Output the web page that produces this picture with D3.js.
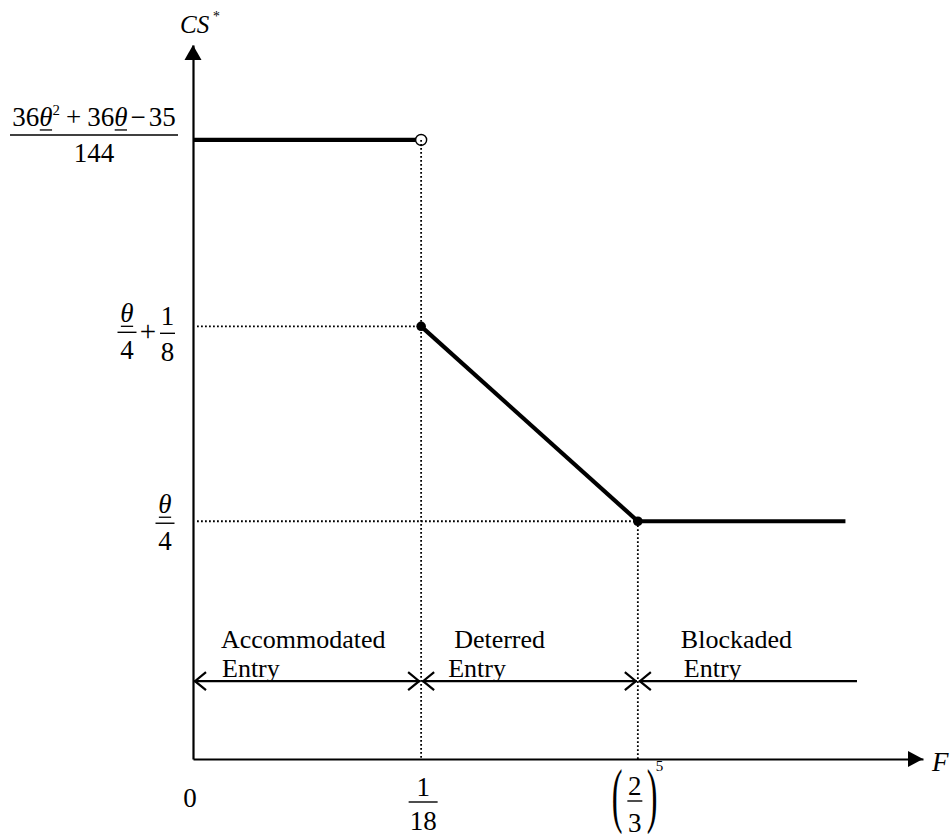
<!DOCTYPE html>
<html>
<head>
<meta charset="utf-8">
<script src="https://cdn.jsdelivr.net/npm/d3@7/dist/d3.min.js"></script>
<style>
  body { margin: 0; background: #fff; }
  text { font-family: "Liberation Serif", "Times New Roman", serif; fill: #000; }
</style>
</head>
<body>
<div id="chart"></div>
<script>
// schematic units (the figure is not to scale)
var breaks = [0, 1, 1.95];          // F = 0, 1/18, (2/3)^5
var levels = [8.67, 6.06, 3.33];    // CS* levels: top, theta/4 + 1/8, theta/4
var lineEnd = 2.86;
var regionRow = 1.09;
var regionEnd = 2.915;

var segments = [
  [[breaks[0], levels[0]], [breaks[1], levels[0]]],
  [[breaks[1], levels[1]], [breaks[2], levels[2]]],
  [[breaks[2], levels[2]], [lineEnd, levels[2]]]
];
var filledDots = [[breaks[1], levels[1]], [breaks[2], levels[2]]];
var openDots = [[breaks[1], levels[0]]];

var regionNames = [["Accommodated", "Entry"], ["Deterred", "Entry"], ["Blockaded", "Entry"]];
var regionBounds = [[breaks[0], breaks[1]], [breaks[1], breaks[2]], [breaks[2], regionEnd]];
var regionHeads = [[true, true], [true, true], [true, false]];

var W = 951, H = 837;
var svg = d3.select("#chart").append("svg")
  .attr("width", W).attr("height", H);

var x = d3.scaleLinear().domain([0, 3.2]).range([193, 923]);
var y = d3.scaleLinear().domain([0, 10]).range([759, 45]);

var MS = 27; // math font size

// --- small math typesetting helper
function run(parent, pieces, size) {
  var g = parent.append("g");
  var cx = 0;
  pieces.forEach(function(p) {
    if (p.gap) { cx += p.gap; return; }
    var fs = p.sup ? size * 0.55 : size;
    var t = g.append("text")
      .attr("x", cx)
      .attr("y", p.sup ? -size * 0.4 : 0)
      .style("font-size", fs + "px")
      .style("font-style", p.i ? "italic" : "normal")
      .text(p.t);
    var w = t.node().getComputedTextLength();
    if (p.u) {
      g.append("line")
        .attr("x1", cx + 0.5).attr("x2", cx + w - 0.5)
        .attr("y1", 4).attr("y2", 4)
        .attr("stroke", "#000").attr("stroke-width", 1.3);
    }
    cx += w;
  });
  g.width = cx;
  return g;
}

function frac(parent, cx, barY, num, den, barW, numUp, denDown) {
  var n = run(parent, num, MS);
  n.attr("transform", "translate(" + (cx - n.width / 2) + "," + (barY - numUp) + ")");
  var d = run(parent, den, MS);
  d.attr("transform", "translate(" + (cx - d.width / 2) + "," + (barY + denDown) + ")");
  parent.append("line")
    .attr("x1", cx - barW / 2).attr("x2", cx + barW / 2)
    .attr("y1", barY).attr("y2", barY)
    .attr("stroke", "#000").attr("stroke-width", 1.4);
}

var theta = {t: "\u03b8", i: true, u: true};

// --- dotted guide lines
var guides = svg.append("g")
  .attr("stroke", "#000").attr("stroke-width", 1.8)
  .attr("stroke-dasharray", "1.8,2.2").attr("fill", "none");
guides.append("line")
  .attr("x1", x(0) + 4).attr("x2", x(breaks[1])).attr("y1", y(levels[1])).attr("y2", y(levels[1]));
guides.append("line")
  .attr("x1", x(0) + 4).attr("x2", x(breaks[2])).attr("y1", y(levels[2])).attr("y2", y(levels[2]));

// --- axes (no ticks, just the domain lines)
svg.append("g")
  .attr("transform", "translate(0," + y(0) + ")")
  .call(d3.axisBottom(x).tickValues([]).tickSizeOuter(0));
svg.append("g")
  .attr("transform", "translate(" + x(0) + ",0)")
  .call(d3.axisLeft(y).tickValues([]).tickSizeOuter(0));
svg.selectAll(".domain").attr("stroke", "#000").attr("stroke-width", 2.2);

// arrow heads
svg.append("path")
  .attr("d", "M" + x(3.2) + "," + y(0) + "l-15,-8v16z").attr("fill", "#000");
svg.append("path")
  .attr("d", "M" + x(0) + "," + y(10) + "l-8.5,15h17z").attr("fill", "#000");

// --- CS* curve
var line = d3.line().x(function(d) { return x(d[0]); }).y(function(d) { return y(d[1]); });
svg.append("g").selectAll("path")
  .data(segments)
  .enter().append("path")
    .attr("d", line)
    .attr("fill", "none").attr("stroke", "#000").attr("stroke-width", 4.2);

svg.selectAll(".open").data(openDots).enter().append("circle")
  .attr("class", "open")
  .attr("cx", function(d) { return x(d[0]); })
  .attr("cy", function(d) { return y(d[1]); })
  .attr("r", 5.5).attr("fill", "#fff").attr("stroke", "#000").attr("stroke-width", 1.4);

// vertical dotted guides (drawn over the open circle)
var vguides = svg.append("g")
  .attr("stroke", "#000").attr("stroke-width", 1.8)
  .attr("stroke-dasharray", "1.8,2.2").attr("fill", "none");
vguides.append("line")
  .attr("x1", x(breaks[1])).attr("x2", x(breaks[1])).attr("y1", y(levels[0])).attr("y2", y(0));
vguides.append("line")
  .attr("x1", x(breaks[2])).attr("x2", x(breaks[2])).attr("y1", y(levels[2])).attr("y2", y(0));

svg.selectAll(".filled").data(filledDots).enter().append("circle")
  .attr("class", "filled")
  .attr("cx", function(d) { return x(d[0]); })
  .attr("cy", function(d) { return y(d[1]); })
  .attr("r", 4.8).attr("fill", "#000");

// --- region arrows and labels
var ry = y(regionRow);
var labelDx = [[28, 29], [33, 27], [43, 46]];
regionBounds.forEach(function(b, i) {
  var x0 = x(b[0]), x1 = x(b[1]);
  var g = svg.append("g").attr("stroke", "#000").attr("stroke-width", 2.2).attr("fill", "none");
  g.append("line").attr("x1", x0 + 1).attr("x2", x1 - 1).attr("y1", ry).attr("y2", ry);
  if (regionHeads[i][0])
    g.append("polyline").attr("points", [[x0 + 13, ry - 9], [x0 + 2, ry], [x0 + 13, ry + 9]].join(" "));
  if (regionHeads[i][1])
    g.append("polyline").attr("points", [[x1 - 13, ry - 9], [x1 - 2, ry], [x1 - 13, ry + 9]].join(" "));
  svg.append("text").attr("x", x0 + labelDx[i][0]).attr("y", ry - 33)
    .style("font-size", "26px").text(regionNames[i][0]);
  svg.append("text").attr("x", x0 + labelDx[i][1]).attr("y", ry - 4)
    .style("font-size", "26px").text(regionNames[i][1]);
});

// --- y labels
var lab = svg.append("g");
frac(lab, 94, y(levels[0]) - 5,
  [{t: "36"}, theta, {t: "2", sup: true}, {gap: 6}, {t: "+"}, {gap: 6}, {t: "36"}, theta, {gap: 3}, {t: "\u2212"}, {gap: 3}, {t: "35"}],
  [{t: "144"}], 168, 9, 27);

frac(lab, 127, y(levels[1]) + 6, [theta], [{t: "4"}], 19, 10, 27);
lab.append("text").attr("x", 148).attr("y", y(levels[1]) + 15)
  .attr("text-anchor", "middle").style("font-size", "29px").text("+");
frac(lab, 167.5, y(levels[1]) + 7, [{t: "1"}], [{t: "8"}], 15, 8, 28);

frac(lab, 165, y(levels[2]) + 2, [theta], [{t: "4"}], 19, 10, 27);

// --- x labels
lab.append("text").attr("x", x(breaks[0]) - 3).attr("y", 807)
  .attr("text-anchor", "middle").style("font-size", MS + "px").text("0");
frac(lab, x(breaks[1]) + 2, 802, [{t: "1"}], [{t: "18"}], 29, 6, 28);
var px = x(breaks[2]) - 3;
frac(lab, px, 801, [{t: "2"}], [{t: "3"}], 15, 6, 31);
lab.append("text").attr("transform", "translate(" + (px - 23) + ",819) scale(0.7,1.55)")
  .style("font-size", "46px").text("(");
lab.append("text").attr("transform", "translate(" + (px + 12) + ",819) scale(0.7,1.55)")
  .style("font-size", "46px").text(")");
lab.append("text").attr("x", px + 21).attr("y", 771)
  .style("font-size", "15px").text("5");

// --- axis titles
var cs = lab.append("text").attr("x", 180).attr("y", 33)
  .style("font-size", "25px").style("font-style", "italic");
cs.append("tspan").text("CS");
cs.append("tspan").attr("dy", -12).attr("dx", 3).style("font-size", "14px").text("*");
lab.append("text").attr("x", 932).attr("y", 771)
  .style("font-size", "27px").style("font-style", "italic").text("F");
</script>
</body>
</html>
